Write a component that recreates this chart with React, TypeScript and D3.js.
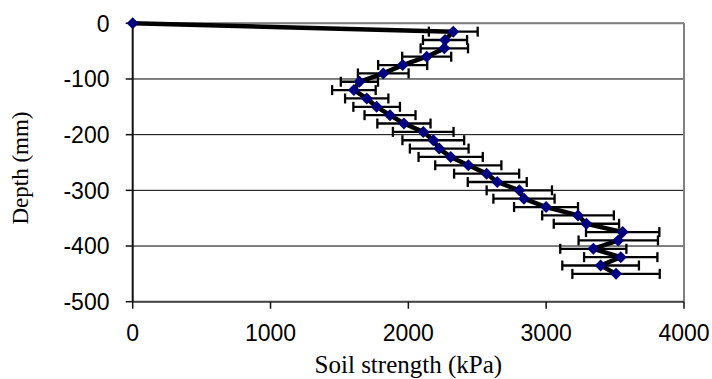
import React from "react";
import * as d3 from "d3";

const depths = [0, -15, -30, -45, -60, -75, -90, -105, -120, -135, -150, -165, -180, -195, -210, -225, -240, -255, -270, -285, -300, -315, -330, -345, -360, -375, -390, -405, -420, -435, -450];
const strength = [0, 2326, 2266, 2261, 2133, 1959, 1818, 1645, 1605, 1698, 1770, 1867, 1968, 2108, 2181, 2224, 2307, 2435, 2568, 2645, 2805, 2839, 2999, 3231, 3292, 3555, 3523, 3342, 3541, 3395, 3507];
const errors = [0, 177, 160, 172, 178, 178, 184, 135, 158, 157, 169, 185, 193, 220, 224, 213, 233, 240, 236, 214, 237, 222, 232, 260, 237, 266, 288, 240, 266, 278, 317];
const xTicks = [0, 1000, 2000, 3000, 4000];
const yTicks = [0, -100, -200, -300, -400, -500];
const xTitle = "Soil strength (kPa)";
const yTitle = "Depth (mm)";

export default function App() {
  const W = 712, H = 379;
  const x = d3.scaleLinear().domain([0, 4000]).range([132.7, 684]);
  const y = d3.scaleLinear().domain([0, -500]).range([23.3, 301.7]);
  const pts = depths.map((d, i) => ({ d, v: strength[i], e: errors[i] }));
  const line = d3.line<any>().x((p) => x(p.v)).y((p) => y(p.d));
  const sans = "'Liberation Sans', Arial, sans-serif";
  const serif = "'Liberation Serif', 'Times New Roman', serif";
  const [x0, x1] = x.range();
  const [y0, y1] = y.range();
  const r = 6;
  return (
    <svg width={W} height={H} style={{ position: "absolute", left: 0, top: 0, background: "#fff" }}>
      <rect x={0} y={0} width={W} height={H} fill="#fff" />
      {yTicks.map((t) => (
        <line key={"g" + t} x1={x0} x2={x1} y1={y(t)} y2={y(t)} stroke="#000" strokeWidth={1} />
      ))}
      <line x1={x0} x2={x1} y1={y0} y2={y0} stroke="#808080" strokeWidth={2} />
      <line x1={x1} x2={x1} y1={y0} y2={y1} stroke="#808080" strokeWidth={2} />
      <line x1={x0} x2={x1} y1={y1} y2={y1} stroke="#444" strokeWidth={2} />
      <line x1={x0} x2={x0} y1={y0} y2={y1} stroke="#111" strokeWidth={2} />
      {yTicks.map((t) => (
        <g key={"yt" + t}>
          <line x1={x0 - 7} x2={x0} y1={y(t)} y2={y(t)} stroke="#111" strokeWidth={1.5} />
          <text x={109.5} y={y(t) + 8.2} textAnchor="end" fontFamily={sans} fontSize={23} fill="#000">
            {t}
          </text>
        </g>
      ))}
      {xTicks.map((t) => (
        <g key={"xt" + t}>
          <line x1={x(t)} x2={x(t)} y1={y1} y2={y1 + 7} stroke="#111" strokeWidth={1.5} />
          <text x={x(t)} y={340.5} textAnchor="middle" fontFamily={sans} fontSize={23} fill="#000">
            {t}
          </text>
        </g>
      ))}
      <text x={(x0 + x1) / 2} y={373} textAnchor="middle" fontFamily={serif} fontSize={25} fill="#000">
        {xTitle}
      </text>
      <text
        transform={`translate(28.3, 168) rotate(-90)`}
        textAnchor="middle"
        fontFamily={serif}
        fontSize={23}
        fill="#000"
      >
        {yTitle}
      </text>
      <path d={line(pts) || ""} fill="none" stroke="#000" strokeWidth={4.5} strokeLinejoin="round" />
      {pts.filter((p) => p.e > 0).map((p, i) => (
        <g key={"e" + i} stroke="#000" strokeWidth={2.3}>
          <line x1={x(p.v - p.e)} x2={x(p.v + p.e)} y1={y(p.d)} y2={y(p.d)} />
          <line x1={x(p.v - p.e)} x2={x(p.v - p.e)} y1={y(p.d) - 5} y2={y(p.d) + 5} />
          <line x1={x(p.v + p.e)} x2={x(p.v + p.e)} y1={y(p.d) - 5} y2={y(p.d) + 5} />
        </g>
      ))}
      {pts.map((p, i) => (
        <path
          key={"m" + i}
          d={`M${x(p.v)},${y(p.d) - r}L${x(p.v) + r},${y(p.d)}L${x(p.v)},${y(p.d) + r}L${x(p.v) - r},${y(p.d)}Z`}
          fill="#000080"
        />
      ))}
    </svg>
  );
}
